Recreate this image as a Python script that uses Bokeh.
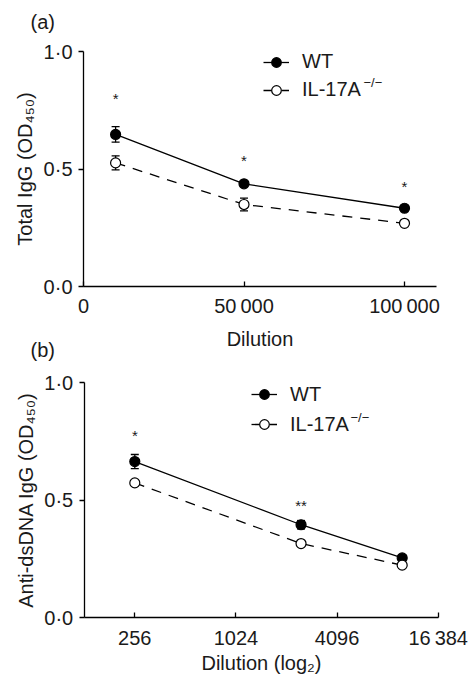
from bokeh.plotting import figure
from bokeh.models import (ColumnDataSource, Whisker, TeeHead, Legend, LegendItem, Label,
                          FixedTicker, CustomJSTickFormatter, Range1d, LinearAxis, LogAxis,
                          LogScale)
from bokeh.embed import file_html
from bokeh.resources import INLINE
from bokeh.core.properties import value
import math

# ---------------- data ----------------
# panel (a): total IgG
dil_a = [10000, 50000, 100000]
wt_a = [0.647, 0.437, 0.333]
wt_a_err = [0.033, 0.010, 0.008]
ko_a = [0.526, 0.349, 0.269]
ko_a_err = [0.030, 0.027, 0.008]
star_a_x = [10000, 50000, 100000]
star_a_y = [0.817, 0.553, 0.444]
star_a_t = ["*", "*", "*"]
xticks_a = [0, 50000, 100000]
xlim_a = (0, 110000)

# panel (b): anti-dsDNA IgG
dil_b = [256, 2500, 10000]
wt_b = [0.665, 0.396, 0.255]
wt_b_err = [0.030, 0.018, 0.008]
ko_b = [0.574, 0.316, 0.224]
ko_b_err = [0.008, 0.008, 0.008]
star_b_x = [256, 2500]
star_b_y = [0.794, 0.496]
star_b_t = ["*", "**"]
xticks_b = [256, 1024, 4096, 16384]
xlim_b = (128, 16384)

yticks = [0, 0.5, 1.0]
ylim = (0, 1)

# ---------------- layout (pixels on the canvas) ----------------
W, H = 468, 676
A_X0, A_X1 = 83.0, 404.0        # pixel of x=0 and x=100000 (panel a)
A_YT, A_YB = 51.0, 286.0        # pixel of y=1 and y=0 (panel a)
B_X0, B_X1 = 134.3, 437.7       # pixel of 256 and 16384 (panel b)
B_YT, B_YB = 382.3, 617.3       # pixel of y=1 and y=0 (panel b)

ka = (100000 - 0) / (A_X1 - A_X0)
xa_range = Range1d(0 - A_X0 * ka, 0 + (W - A_X0) * ka)
ua = 1.0 / (A_YB - A_YT)
ya_range = Range1d(-(H - A_YB) * ua, A_YB * ua)
mb = (math.log2(16384) - math.log2(256)) / (B_X1 - B_X0)
xb_range = Range1d(2 ** (8 - B_X0 * mb), 2 ** (8 + (W - B_X0) * mb))
ub = 1.0 / (B_YB - B_YT)
yb_range = Range1d(-(H - B_YB) * ub, B_YB * ub)

FONT = "Liberation Sans"
FS_TICK = "20px"
FS = "20px"
TXT = "#1a1a1a"

num_fmt = CustomJSTickFormatter(code="""
const s = Math.round(tick).toString();
return s.length > 4 ? s.slice(0, -3) + '\u2009' + s.slice(-3) : s;
""")
y_fmt = CustomJSTickFormatter(code="return tick.toFixed(1).replace('.', '\u00b7');")

p = figure(width=W, height=H, x_range=xa_range, y_range=ya_range,
           x_axis_location=None, y_axis_location=None,
           min_border_left=0, min_border_right=0, min_border_top=0, min_border_bottom=0,
           output_backend="svg", toolbar_location=None)
p.extra_x_ranges = {"xb": xb_range}
p.extra_x_scales = {"xb": LogScale()}
p.extra_y_ranges = {"yb": yb_range}
p.outline_line_color = None
for g in p.grid:
    g.visible = False
p.background_fill_color = "white"
p.border_fill_color = "white"


def style_axis(ax):
    ax.axis_line_width = 1.3
    ax.axis_line_color = "black"
    ax.major_tick_line_width = 1.3
    ax.major_tick_line_color = "black"
    ax.minor_tick_line_color = None
    ax.major_label_text_font = FONT
    ax.major_label_text_font_size = FS_TICK
    ax.major_label_text_color = TXT
    ax.axis_label_text_font = FONT
    ax.axis_label_text_font_size = FS
    ax.axis_label_text_font_style = "normal"
    ax.axis_label_text_color = TXT


def add_axes(xr, yr, xaxis_cls, xticks, xlim, xlabel, ylabel, x_std, x_lab_std):
    yax = LinearAxis(x_range_name=xr, y_range_name=yr, fixed_location=xlim[0],
                     bounds=ylim, ticker=FixedTicker(ticks=yticks), formatter=y_fmt,
                     axis_label=ylabel)
    style_axis(yax)
    yax.major_tick_out = 5
    yax.major_tick_in = 0
    yax.major_label_standoff = 6
    yax.axis_label_standoff = 5
    p.add_layout(yax, "left")
    xax = xaxis_cls(x_range_name=xr, y_range_name=yr, fixed_location=ylim[0],
                    bounds=xlim, ticker=FixedTicker(ticks=xticks), formatter=num_fmt,
                    axis_label=xlabel)
    style_axis(xax)
    xax.major_tick_out = 0
    xax.major_tick_in = 5
    xax.major_label_standoff = x_std
    xax.axis_label_standoff = x_lab_std
    p.add_layout(xax, "below")


def draw(xr, yr, x, wt, wt_err, ko, ko_err, sx, sy, st, leg_loc, spacing, sup_xy, tag, tag_xy):
    kw = dict(x_range_name=xr, y_range_name=yr)
    src_wt = ColumnDataSource(dict(x=x, y=wt, up=[a + b for a, b in zip(wt, wt_err)],
                                   lo=[a - b for a, b in zip(wt, wt_err)]))
    src_ko = ColumnDataSource(dict(x=x, y=ko, up=[a + b for a, b in zip(ko, ko_err)],
                                   lo=[a - b for a, b in zip(ko, ko_err)]))
    for src in (src_wt, src_ko):
        w = Whisker(source=src, base="x", upper="up", lower="lo", line_width=1.3,
                    line_color="black",
                    upper_head=TeeHead(size=8, line_width=1.3, line_color="black"),
                    lower_head=TeeHead(size=8, line_width=1.3, line_color="black"), **kw)
        p.add_layout(w)
    l_wt = p.line("x", "y", source=src_wt, line_color="black", line_width=1.3, **kw)
    l_ko = p.line("x", "y", source=src_ko, line_color="black", line_width=1.3,
                  line_dash="10 8", **kw)
    m_wt = p.scatter("x", "y", source=src_wt, size=10, fill_color="black",
                     line_color="black", line_width=1.2, **kw)
    m_ko = p.scatter("x", "y", source=src_ko, size=10, fill_color="white",
                     line_color="black", line_width=1.2, **kw)
    p.text(x=sx, y=sy, text=st, text_font=value(FONT), text_font_size="15px",
           text_align="center", text_baseline="middle", text_color=TXT, y_offset=4, **kw)

    leg = Legend(items=[LegendItem(label="WT", renderers=[l_wt, m_wt]),
                        LegendItem(label="IL-17A", renderers=[l_ko, m_ko])],
                 location=leg_loc, orientation="vertical",
                 glyph_width=26, glyph_height=24, label_height=24, spacing=spacing,
                 label_standoff=13, padding=0, margin=0,
                 border_line_color=None, background_fill_alpha=0,
                 label_text_font=FONT, label_text_font_size=FS,
                 label_text_color=TXT)
    p.add_layout(leg)
    p.add_layout(Label(x=sup_xy[0], y=H - sup_xy[1], x_units="screen", y_units="screen",
                       text="\u2212/\u2212", text_font=FONT, text_font_size="13px",
                       text_baseline="middle", text_color=TXT))
    p.add_layout(Label(x=tag_xy[0], y=H - tag_xy[1], x_units="screen", y_units="screen",
                       text=tag, text_font=FONT, text_font_size=FS,
                       text_baseline="middle", text_color=TXT))


add_axes("default", "default", LinearAxis, xticks_a, xlim_a, "Dilution",
         "Total IgG (OD\u2084\u2085\u2080)", 8, 8)
draw("default", "default", dil_a, wt_a, wt_a_err, ko_a, ko_a_err,
     star_a_x, star_a_y, star_a_t, (263, H - 101.7), 4, (363, 82), "(a)", (30, 21.7))

add_axes("xb", "yb", LogAxis, xticks_b, xlim_b, "Dilution (log\u2082)",
         "Anti-dsDNA IgG (OD\u2084\u2085\u2080)", 9, 0)
draw("xb", "yb", dil_b, wt_b, wt_b_err, ko_b, ko_b_err,
     star_b_x, star_b_y, star_b_t, (251, H - 436.3), 6, (350, 417), "(b)", (30, 349))

open("out.html", "w").write(file_html(p, INLINE))
